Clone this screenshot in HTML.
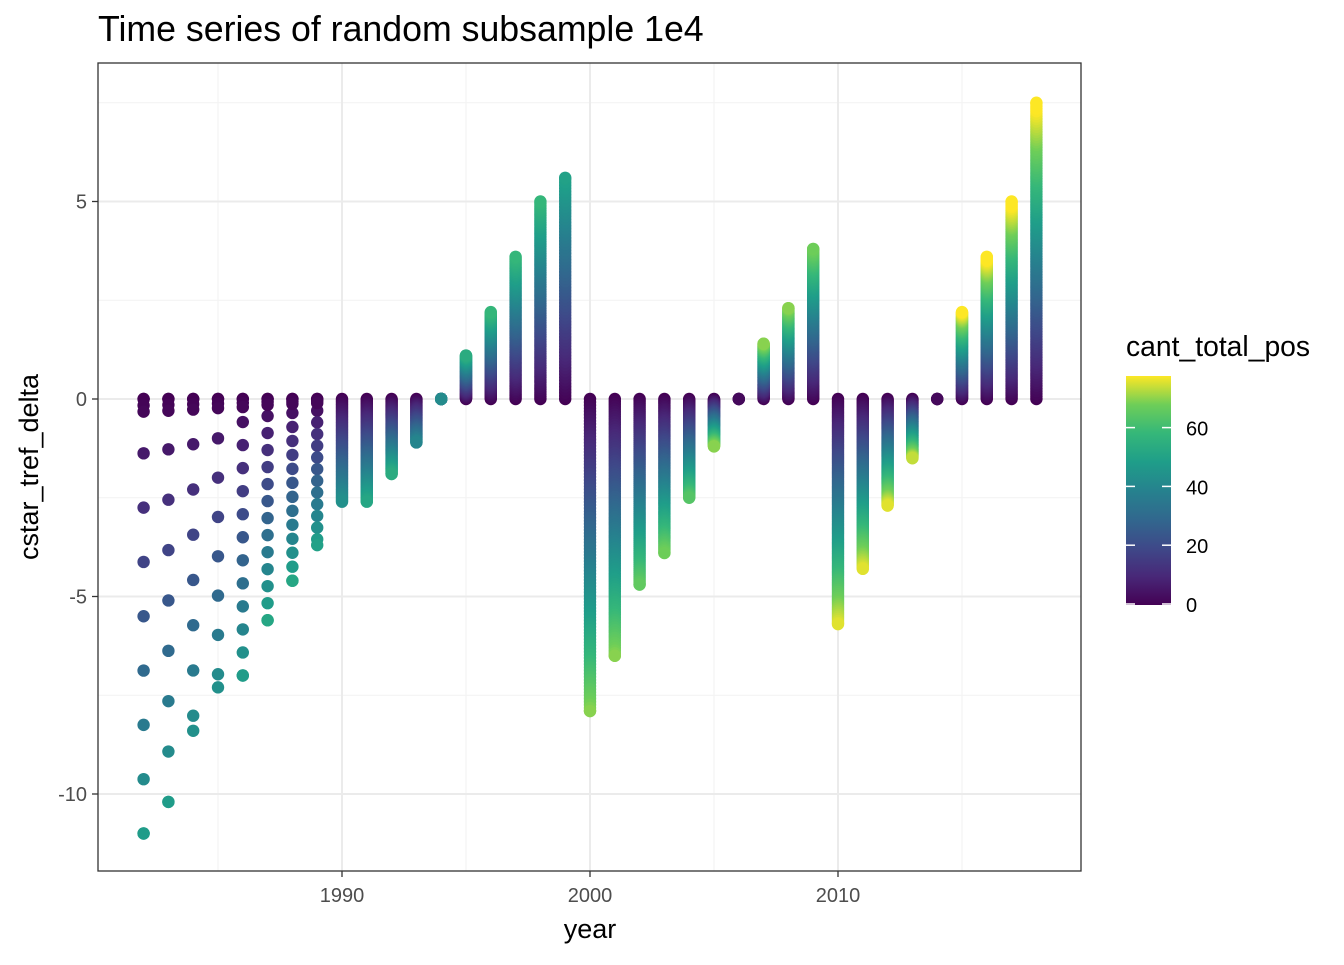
<!DOCTYPE html>
<html><head><meta charset="utf-8"><style>
body{margin:0;background:#fff;font-family:"Liberation Sans",sans-serif;}
svg text{font-family:"Liberation Sans",sans-serif;}
</style></head><body>
<svg id="c" width="1344" height="960">
<defs><linearGradient id="vg" x1="0" y1="1" x2="0" y2="0">
<stop offset="0" stop-color="#440154"/><stop offset="0.125" stop-color="#482878"/><stop offset="0.25" stop-color="#3e4989"/><stop offset="0.375" stop-color="#31688e"/><stop offset="0.5" stop-color="#26828e"/><stop offset="0.625" stop-color="#1f9e89"/><stop offset="0.75" stop-color="#35b779"/><stop offset="0.875" stop-color="#6ece58"/><stop offset="1" stop-color="#fde725"/></linearGradient></defs>
<text x="98" y="41" font-size="35.7" fill="#000">Time series of random subsample 1e4</text>
<rect x="98" y="63" width="983" height="808" fill="#fff" stroke="none"/>
<g id="grid"></g><g id="pts"></g>
<rect x="98" y="63" width="983" height="808" fill="none" stroke="#333" stroke-width="1.3"/>
<g id="axes"></g>
<text x="590" y="938" font-size="27" text-anchor="middle">year</text>
<text transform="translate(38,467) rotate(-90)" font-size="27" text-anchor="middle">cstar_tref_delta</text>
<text x="1126" y="356" font-size="28.3">cant_total_pos</text>
<rect x="1126" y="376" width="45" height="229" fill="url(#vg)"/>
<g id="leg"></g>
</svg>
<script>
const years=[1982,1983,1984,1985,1986,1987,1988,1989,1990,1991,1992,1993,1994,1995,1996,1997,1998,1999,2000,2001,2002,2003,2004,2005,2006,2007,2008,2009,2010,2011,2012,2013,2014,2015,2016,2017,2018];
const extremes=[-11.0,-10.2,-8.4,-7.3,-7.0,-5.6,-4.6,-3.7,-2.6,-2.6,-1.9,-1.1,0,1.1,2.2,3.6,5.0,5.6,-7.9,-6.5,-4.7,-3.9,-2.5,-1.2,0,1.4,2.3,3.8,-5.7,-4.3,-2.7,-1.5,0,2.2,3.6,5.0,7.5];
const maxCant=[48,48,44,44,48,52,52,50,44,52,54,40,42,54,58,58,58,50,70,70,66,68,64,70,2,70,70,68,76,76,76,74,2,78,80,80,80];
const xTicks=[1990,2000,2010];
const yTicks=[-10,-5,0,5];
const legTicks=[0,20,40,60];
const X=v=>342+(v-1990)*24.8, Y=v=>399-v*39.5, L=v=>604-v*2.94;
const NS="http://www.w3.org/2000/svg";
function mk(t,a,p){const e=document.createElementNS(NS,t);for(const k in a)e.setAttribute(k,a[k]);p.appendChild(e);return e;}
const stops=["#440154","#482878","#3e4989","#31688e","#26828e","#1f9e89","#35b779","#6ece58","#fde725"];
function hex(h){return[1,3,5].map(i=>parseInt(h.substr(i,2),16));}
function vir(v){let t=Math.max(0,Math.min(1,v/78))*8;let i=Math.min(7,Math.floor(t)),f=t-i;const a=hex(stops[i]),b=hex(stops[i+1]);return`rgb(${a.map((c,k)=>Math.round(c+(b[k]-c)*f)).join(",")})`;}
const grid=document.getElementById('grid');
[1985,1995,2005,2015].forEach(v=>mk('line',{x1:X(v),x2:X(v),y1:63,y2:871,stroke:'#f2f2f2','stroke-width':1},grid));
[-7.5,-2.5,2.5,7.5].forEach(v=>mk('line',{x1:98,x2:1081,y1:Y(v),y2:Y(v),stroke:'#f2f2f2','stroke-width':1},grid));
xTicks.forEach(v=>mk('line',{x1:X(v),x2:X(v),y1:63,y2:871,stroke:'#ebebeb','stroke-width':2},grid));
yTicks.forEach(v=>mk('line',{x1:98,x2:1081,y1:Y(v),y2:Y(v),stroke:'#ebebeb','stroke-width':2},grid));
const ax=document.getElementById('axes');
xTicks.forEach(v=>{mk('line',{x1:X(v),x2:X(v),y1:871,y2:877,stroke:'#333','stroke-width':1.3},ax);const t=mk('text',{x:X(v),y:902,'font-size':20,'text-anchor':'middle',fill:'#4d4d4d'},ax);t.textContent=v;});
yTicks.forEach(v=>{mk('line',{x1:92,x2:98,y1:Y(v),y2:Y(v),stroke:'#333','stroke-width':1.3},ax);const t=mk('text',{x:87,y:Y(v)+7,'font-size':20,'text-anchor':'end',fill:'#4d4d4d'},ax);t.textContent=v;});
const lg=document.getElementById('leg');
legTicks.forEach(v=>{mk('line',{x1:1126,x2:1135,y1:L(v),y2:L(v),stroke:'#fff','stroke-width':1.5},lg);mk('line',{x1:1162,x2:1171,y1:L(v),y2:L(v),stroke:'#fff','stroke-width':1.5},lg);const t=mk('text',{x:1186,y:L(v)+8,'font-size':20,fill:'#000'},lg);t.textContent=v;});
const pts=document.getElementById('pts');
years.forEach((yr,i)=>{const m=maxCant[i],step=yr<1990?(yr<1986?6:4):0.7;
 for(let c=0;c<=m+1e-9;c+=step){const d=m?extremes[i]*c/m:0;
  const e=mk('circle',{cx:X(yr),cy:Y(d),r:6.2,fill:vir(c)},pts);
  
  }
 if(yr<1990){for(let c=0;c<=2;c+=0.7){const e=mk('circle',{cx:X(yr),cy:Y(extremes[i]*c/m),r:6.2,fill:vir(c)},pts);
  
  }}
 const e=mk('circle',{cx:X(yr),cy:Y(extremes[i]),r:6.2,fill:vir(m)},pts);
 
 
});
</script>
</body></html>
